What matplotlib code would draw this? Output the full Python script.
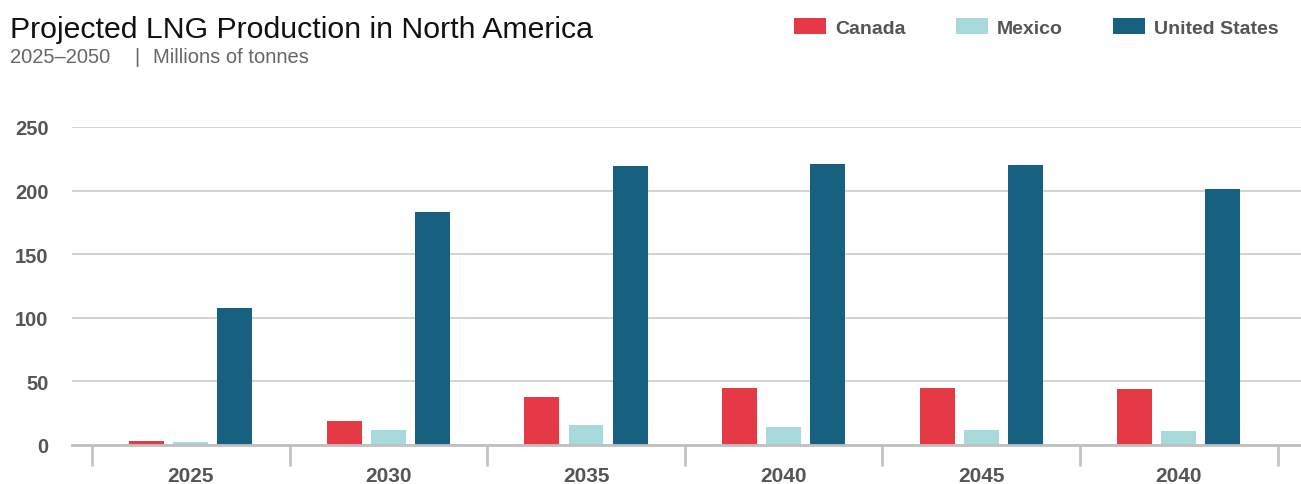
import numpy as np
import matplotlib.pyplot as plt
from matplotlib.patches import Patch

# ---------------------------
# DATA (millions of tonnes)
years = ["2025", "2030", "2035", "2040", "2045", "2040"]
canada = [3.5, 19, 38, 45, 44.5, 44]
mexico = [2.5, 11.5, 16, 14.5, 12, 11]
united_states = [108, 183, 219, 221, 220, 201]
series_names = ["Canada", "Mexico", "United States"]
# ---------------------------

colors = ["#e63946", "#a8dadc", "#17607f"]
grid_col = "#cccccc"
text_col = "#555555"

plt.rcParams['font.family'] = ['Liberation Sans', 'DejaVu Sans']

W, H = 1301, 485
fig = plt.figure(figsize=(W / 100, H / 100), dpi=100)
ax = fig.add_axes([72 / W, 39 / H, (W - 72) / W, (446 - 128) / H])

x = np.arange(len(years))
bw = 0.177
step = 0.223
for i, vals in enumerate([canada, mexico, united_states]):
    ax.bar(x + (i - 1) * step, vals, width=bw, color=colors[i], zorder=3,
           label=series_names[i])

ax.set_xlim(-0.601, 5.618)
ax.set_ylim(0, 250)

# y grid
ax.set_yticks([0, 50, 100, 150, 200, 250])
ax.yaxis.grid(True, color=grid_col, linewidth=1.2, zorder=0)
ax.tick_params(axis='y', length=0, pad=17, labelsize=14.5, labelcolor=text_col)
for lab in ax.get_yticklabels():
    lab.set_fontweight('bold')

# category labels on major ticks, separators on minor ticks
ax.set_xticks(x)
ax.set_xticklabels(years, fontsize=15, fontweight='bold', color=text_col)
ax.set_xticks(np.arange(len(years) + 1) - 0.5, minor=True)
ax.tick_params(axis='x', which='major', length=0, pad=15)
ax.tick_params(axis='x', which='minor', length=15, width=2, color="#c4c4c4")

for s in ["top", "right", "left"]:
    ax.spines[s].set_visible(False)
ax.spines["bottom"].set_color("#c0c0c0")
ax.spines["bottom"].set_linewidth(2)
ax.spines["bottom"].set_zorder(4)

# title block
fig.text(10 / W, 1 - 38 / H, "Projected LNG Production in North America",
         fontsize=21.8, color="#111111", ha='left', va='baseline')
sub = dict(fontsize=14.5, color="#666666", ha='left', va='baseline')
fig.text(10 / W, 1 - 63 / H, "2025\u20132050", **sub)
fig.text(134 / W, 1 - 63 / H, "|", **sub)
fig.text(153 / W, 1 - 63 / H, "Millions of tonnes", **sub)

# legend
handles = [Patch(facecolor=c) for c in colors]
leg = fig.legend(handles, series_names, loc='upper right', ncol=3,
                 bbox_to_anchor=(1279 / W, 1 - 19 / H), frameon=False,
                 prop={'weight': 'bold', 'size': 14}, handlelength=1.65,
                 handleheight=0.88, handletextpad=0.46, columnspacing=2.6,
                 borderpad=0, borderaxespad=0)
for t in leg.get_texts():
    t.set_color(text_col)

plt.savefig("out.png", dpi=100)
